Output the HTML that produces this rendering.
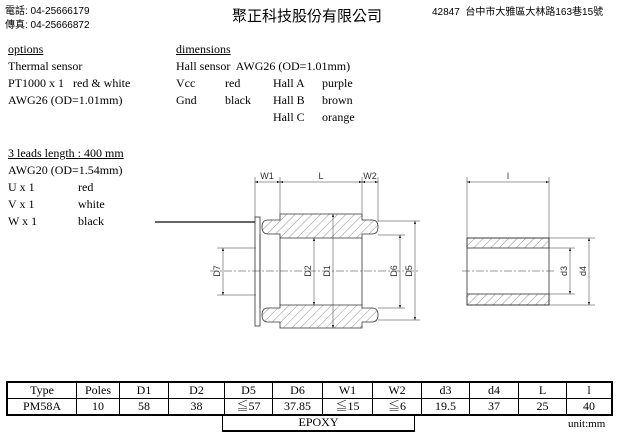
<!DOCTYPE html>
<html><head><meta charset="utf-8"><style>
body{margin:0;width:619px;height:438px;background:#fff;position:relative;overflow:hidden;font-family:"Liberation Serif","Noto Serif CJK SC",serif;color:#000}
.t{position:absolute;white-space:nowrap;font-size:12px;line-height:14px}
.s{font-family:"Liberation Sans","Noto Sans CJK TC",sans-serif}
u{text-decoration:underline}
table{position:absolute;left:6px;top:381px;border-collapse:collapse;font-size:12px}
td{border:1px solid #000;text-align:center;height:15px;padding:0;line-height:15px}
</style></head><body>
<div class="t s" style="left:5px;top:5px;font-size:10px">電話: 04-25666179</div>
<div class="t s" style="left:5px;top:19px;font-size:10px">傳真: 04-25666872</div>
<div class="t s" style="left:232px;top:8px;font-size:15px;line-height:18px">聚正科技股份有限公司</div>
<div class="t s" style="left:432px;top:6px;font-size:10px">42847&nbsp; 台中市大雅區大林路163巷15號</div>

<div class="t" style="left:8px;top:42px"><u>options</u></div>
<div class="t" style="left:8px;top:59px">Thermal sensor</div>
<div class="t" style="left:8px;top:76px">PT1000 x 1&nbsp;&nbsp; red &amp; white</div>
<div class="t" style="left:8px;top:93px">AWG26 (OD=1.01mm)</div>
<div class="t" style="left:176px;top:42px"><u>dimensions</u></div>
<div class="t" style="left:176px;top:59px">Hall sensor&nbsp; AWG26 (OD=1.01mm)</div>
<div class="t" style="left:176px;top:76px">Vcc</div><div class="t" style="left:225px;top:76px">red</div>
<div class="t" style="left:273px;top:76px">Hall A</div><div class="t" style="left:322px;top:76px">purple</div>
<div class="t" style="left:176px;top:93px">Gnd</div><div class="t" style="left:225px;top:93px">black</div>
<div class="t" style="left:273px;top:93px">Hall B</div><div class="t" style="left:322px;top:93px">brown</div>
<div class="t" style="left:273px;top:110px">Hall C</div><div class="t" style="left:322px;top:110px">orange</div>

<div class="t" style="left:8px;top:146px"><u>3 leads length : 400 mm</u></div>
<div class="t" style="left:8px;top:163px">AWG20 (OD=1.54mm)</div>
<div class="t" style="left:8px;top:180px">U x 1</div><div class="t" style="left:78px;top:180px">red</div>
<div class="t" style="left:8px;top:197px">V x 1</div><div class="t" style="left:78px;top:197px">white</div>
<div class="t" style="left:8px;top:214px">W x 1</div><div class="t" style="left:78px;top:214px">black</div>

<svg width="619" height="438" style="position:absolute;left:0;top:0" font-family="Liberation Sans,sans-serif" font-size="9">
<defs>
<pattern id="h" width="6" height="6" patternUnits="userSpaceOnUse" patternTransform="rotate(45)"><line x1="0" y1="0" x2="0" y2="6" stroke="#444" stroke-width="0.6"/></pattern>
<marker id="a" markerWidth="6" markerHeight="6" refX="6" refY="3" orient="auto-start-reverse"><path d="M0,1 L6,3 L0,5z" fill="#000"/></marker>
</defs>
<g stroke="#333" stroke-width="0.8" fill="none">
<line x1="155" y1="222" x2="255" y2="222" stroke-width="1.5"/>
<rect x="255" y="217" width="5" height="109" fill="#fff"/>
<path d="M280,214 H362 V220 H372 Q378,220 378,227 Q378,234 372,234 H362 V238 H280 V234 H268 Q262,234 262,227 Q262,220 268,220 H280 Z" fill="url(#h)"/>
<path d="M280,305 H362 V308 H372 Q378,308 378,315 Q378,322 372,322 H362 V328 H280 V322 H268 Q262,322 262,315 Q262,308 268,308 H280 Z" fill="url(#h)"/>
<line x1="280" y1="238" x2="280" y2="305"/><line x1="362" y1="238" x2="362" y2="305"/>
<line x1="260" y1="234" x2="260" y2="308"/>
<line x1="210" y1="271" x2="420" y2="271" stroke-dasharray="8,2,2,2" stroke-width="0.5"/>
<g stroke-width="0.5">
<line x1="255" y1="177" x2="255" y2="217"/><line x1="280" y1="177" x2="280" y2="214"/>
<line x1="362" y1="177" x2="362" y2="214"/><line x1="378" y1="177" x2="378" y2="222"/>
<line x1="217" y1="248" x2="256" y2="248"/><line x1="217" y1="295" x2="256" y2="295"/>
<line x1="378" y1="235" x2="405" y2="235"/><line x1="378" y1="308" x2="405" y2="308"/>
<line x1="378" y1="221" x2="420" y2="221"/><line x1="378" y1="320" x2="420" y2="320"/>
<line x1="255" y1="182" x2="280" y2="182" marker-start="url(#a)" marker-end="url(#a)"/>
<line x1="280" y1="182" x2="362" y2="182" marker-start="url(#a)" marker-end="url(#a)"/>
<line x1="362" y1="182" x2="378" y2="182" marker-start="url(#a)" marker-end="url(#a)"/>
<line x1="223" y1="248" x2="223" y2="295" marker-start="url(#a)" marker-end="url(#a)"/>
<line x1="314" y1="238" x2="314" y2="305" marker-start="url(#a)" marker-end="url(#a)"/>
<line x1="333" y1="214" x2="333" y2="328" marker-start="url(#a)" marker-end="url(#a)"/>
<line x1="400" y1="235" x2="400" y2="308" marker-start="url(#a)" marker-end="url(#a)"/>
<line x1="415" y1="221" x2="415" y2="320" marker-start="url(#a)" marker-end="url(#a)"/>
</g>
<rect x="467" y="238" width="82" height="10" fill="url(#h)"/>
<rect x="467" y="294" width="82" height="11" fill="url(#h)"/>
<rect x="467" y="238" width="82" height="67"/>
<line x1="462" y1="271" x2="555" y2="271" stroke-dasharray="8,2,2,2" stroke-width="0.5"/>
<g stroke-width="0.5">
<line x1="467" y1="177" x2="467" y2="238"/><line x1="549" y1="177" x2="549" y2="238"/>
<line x1="549" y1="248" x2="575" y2="248"/><line x1="549" y1="294" x2="575" y2="294"/>
<line x1="549" y1="238" x2="595" y2="238"/><line x1="549" y1="305" x2="595" y2="305"/>
<line x1="467" y1="182" x2="549" y2="182" marker-start="url(#a)" marker-end="url(#a)"/>
<line x1="570" y1="248" x2="570" y2="294" marker-start="url(#a)" marker-end="url(#a)"/>
<line x1="589" y1="238" x2="589" y2="305" marker-start="url(#a)" marker-end="url(#a)"/>
</g>
</g>
<g fill="#333" text-anchor="middle">
<text x="267" y="179">W1</text><text x="321" y="179">L</text><text x="370" y="179">W2</text><text x="508" y="179">l</text>
<text transform="translate(220,271) rotate(-90)">D7</text>
<text transform="translate(311,271) rotate(-90)">D2</text>
<text transform="translate(330,271) rotate(-90)">D1</text>
<text transform="translate(397,271) rotate(-90)">D6</text>
<text transform="translate(412,271) rotate(-90)">D5</text>
<text transform="translate(567,271) rotate(-90)">d3</text>
<text transform="translate(586,271) rotate(-90)">d4</text>
</g>
</svg>

<table style="border:2px solid #000">
<tr><td style="width:68px">Type</td><td style="width:42px">Poles</td><td style="width:48px">D1</td><td style="width:55px">D2</td><td style="width:47px">D5</td><td style="width:49px">D6</td><td style="width:49px">W1</td><td style="width:48px">W2</td><td style="width:47px">d3</td><td style="width:48px">d4</td><td style="width:47px">L</td><td style="width:44px">l</td></tr>
<tr><td>PM58A</td><td>10</td><td>58</td><td>38</td><td>≦57</td><td>37.85</td><td>≦15</td><td>≦6</td><td>19.5</td><td>37</td><td>25</td><td>40</td></tr>
</table>
<div style="position:absolute;left:222px;top:414px;width:191px;height:16px;border:1px solid #000;border-top:none;border-bottom-width:2px;text-align:center;font-size:12px;line-height:16px">EPOXY</div>
<div class="t" style="left:568px;top:417px;font-size:11px">unit:mm</div>
</body></html>
